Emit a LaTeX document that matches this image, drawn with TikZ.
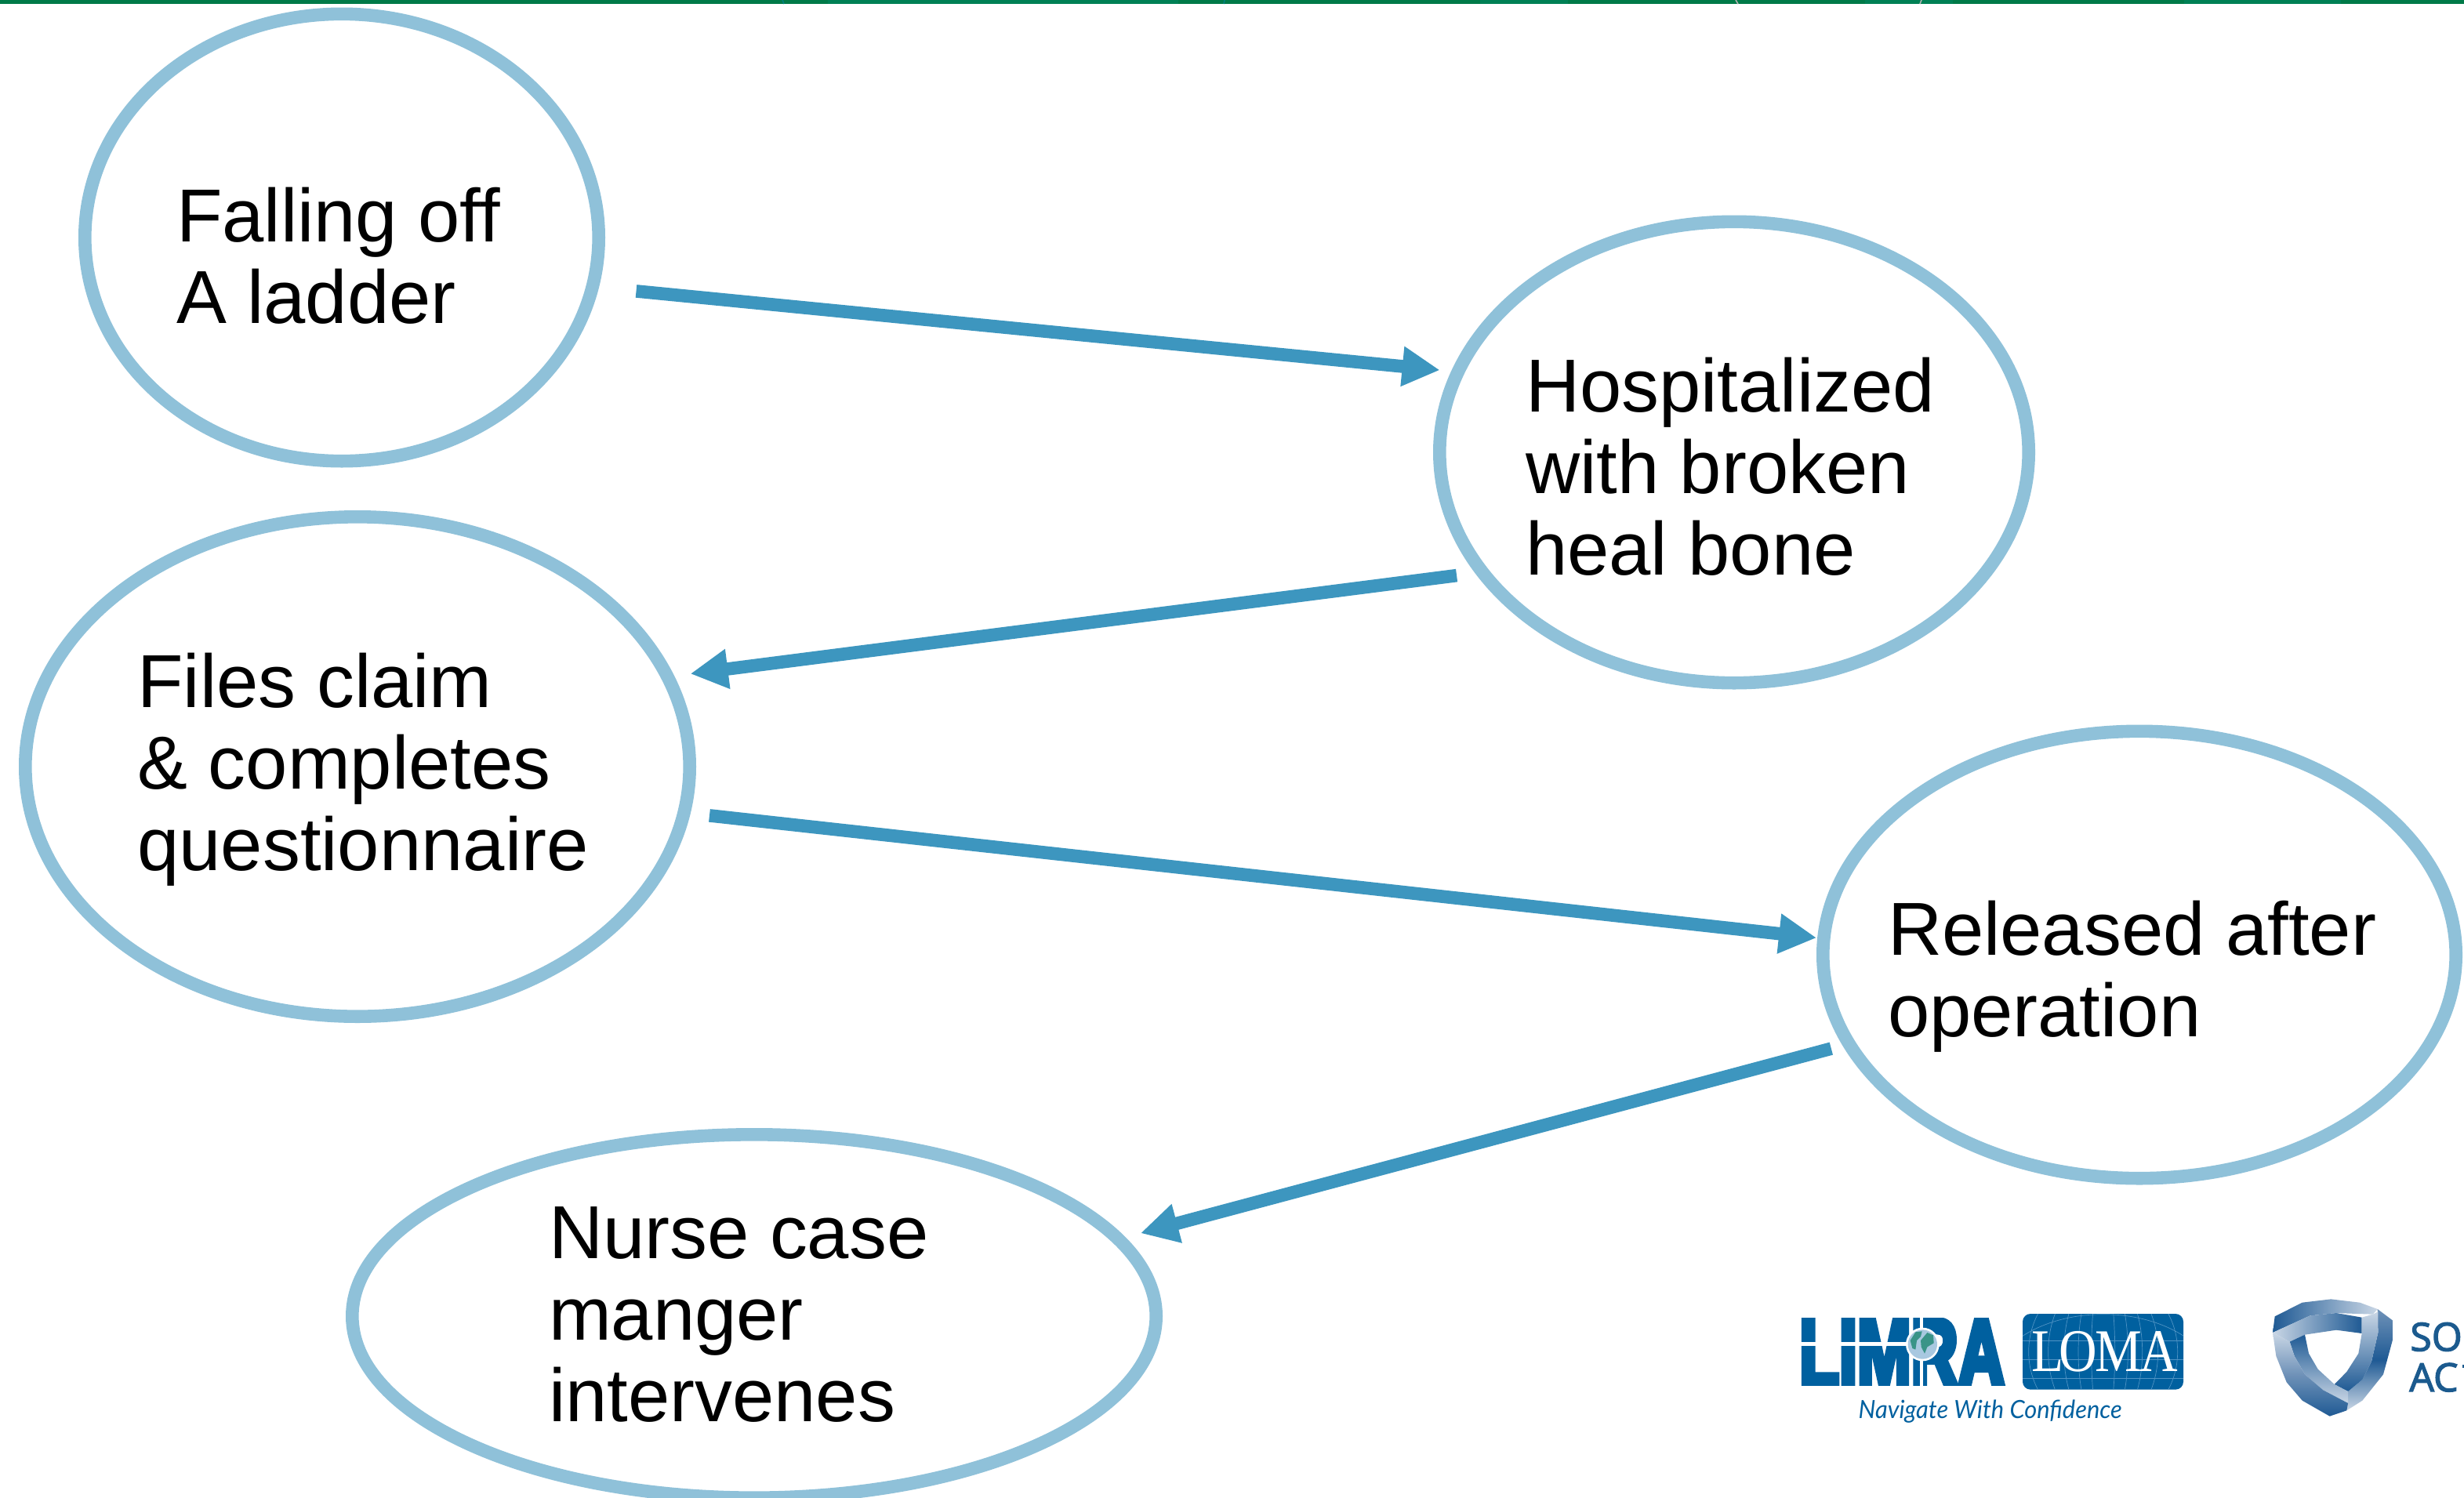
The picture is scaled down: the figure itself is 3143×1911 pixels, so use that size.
\documentclass[tikz,border=0pt]{standalone}
\usepackage{fontspec}
\usepackage{graphicx}
\usetikzlibrary{shapes.geometric,arrows.meta}
\setmainfont{Liberation Sans}
\newfontfamily\heavyfont[FakeBold=7]{Liberation Sans Bold}
\newfontfamily\lomafont{Liberation Serif}
\newfontfamily\navfont{Lato}
\newfontfamily\soafont[FakeBold=2.5]{Open Sans}
\definecolor{ringblue}{HTML}{8FC1D9}
\definecolor{arrowblue}{HTML}{3D96BF}
\definecolor{barGreen}{HTML}{007A48}
\definecolor{barLight}{HTML}{008055}
\definecolor{logoblue}{HTML}{00609F}
\definecolor{gridblue}{HTML}{4F93C4}
\definecolor{shDark}{HTML}{1F5A94}
\definecolor{shMid}{HTML}{6F92B8}
\definecolor{shLight}{HTML}{C9D6E5}
\definecolor{soablue}{HTML}{1B5A8E}
\newcommand{\etxt}[3]{\makebox[0pt][l]{\hspace*{#1}\raisebox{#2}[0pt][0pt]{\begin{tabular}[t]{@{}l@{}}#3\end{tabular}}}}
\tikzset{
  bubble/.style={ellipse,draw=ringblue,line width=8.3pt,inner sep=0pt,font=\fontsize{47.9pt}{52pt}\selectfont},
  flow/.style={draw=arrowblue,line width=8.3pt,-{Triangle[length=24pt,width=24pt,fill=arrowblue]}},
  logotext/.style={inner sep=0pt,outer sep=0pt},
}
\begin{document}
\begin{tikzpicture}[x=0.5pt,y=-0.5pt]
\useasboundingbox (0,0) rectangle (3143,1911);
\clip (0,0) rectangle (3143,1911);
\fill[white] (0,0) rectangle (3143,1911);
% top bar
\fill[barGreen] (0,0) rectangle (3143,5);
\fill[barLight] (1056,0) rectangle (1503,5);
\fill[barLight] (1888,0) rectangle (2000,5);
\fill[barLight] (2379,0) rectangle (2491,5);
\fill[barLight] (2786,0) rectangle (2986,5);
\draw[line width=.8pt,color=teal] (998,0) -- (1000,5);
\draw[line width=.8pt,color=teal] (1562,0) -- (1561,5);
\draw[line width=.8pt,color=gray!60] (2214,0) -- (2217,5);
\draw[line width=.8pt,color=gray!60] (2451,0) -- (2449,5);
% bubbles
\node[bubble,minimum width=327.7pt,minimum height=285.2pt] (fall) at (436,303) {\etxt{-105.5pt}{-2.8pt}{Falling off\\A ladder}};
\node[bubble,minimum width=375.7pt,minimum height=294.2pt] (hosp) at (2212,577) {\etxt{-133pt}{25.6pt}{Hospitalized\\with broken\\heal bone}};
\node[bubble,minimum width=423.7pt,minimum height=318.7pt] (file) at (456,978) {\etxt{-140.3pt}{38pt}{Files claim\\\& completes\\questionnaire}};
\node[bubble,minimum width=403.7pt,minimum height=285.2pt] (rel) at (2729,1218) {\etxt{-160.5pt}{-0.4pt}{Released after\\operation}};
\node[bubble,minimum width=512.7pt,minimum height=231.7pt] (nurse) at (962,1679) {\etxt{-131pt}{36.7pt}{Nurse case\\manger\\intervenes}};
% connectors
\draw[flow,shorten <=23.9pt,shorten >=7.3pt] (fall.-11.4) -- (hosp.164.3);
\draw[flow,shorten <=11.85pt,shorten >=10.4pt] (hosp.205) -- (file.16);
\draw[flow,shorten <=12.2pt,shorten >=0.5pt] (file.-8.2) -- (rel.177.5);
\draw[flow,shorten <=7.56pt,shorten >=10.25pt] (rel.197.1) -- (nurse.12.5);
% LIMRA logo
\begin{scope}[shift={(2280,1660)},x=0.16667pt,y=-0.16667pt]
\node[logotext,anchor=base west,text=logoblue] (limra) at (46,325) {\resizebox{131pt}{\height}{\fontsize{61pt}{61pt}\heavyfont LIMRA}};
\fill[white] (30,-60) rectangle (860,63);
\fill[white] (30,325) rectangle (860,350);
\fill[white] (45,157) rectangle (470,172);
\fill[white] (508,55) rectangle (520,110);
\fill[white] (517,165) circle (64);
\fill[white] (508,225) rectangle (520,335);
\fill[color={rgb,255:red,168;green,200;blue,224}] (517,165) circle (56);
\fill[color={rgb,255:red,58;green,148;blue,136}] (470,150) -- (490,118) -- (515,115) -- (510,135) -- (495,150) -- (490,185) -- (478,180) -- cycle;
\fill[color={rgb,255:red,58;green,148;blue,136}] (510,150) -- (535,120) -- (558,130) -- (560,160) -- (535,175) -- (525,200) -- (512,175) -- cycle;
\node[logotext,anchor=base west,text=logoblue] (tag) at (272,448) {\resizebox{168pt}{\height}{\fontsize{16pt}{16pt}\navfont\itshape Navigate With Confidence}};
\end{scope}
% LOMA logo
\begin{scope}[shift={(2560,1660)},x=0.16667pt,y=-0.16667pt]
\fill[logoblue,rounded corners=5pt] (60,48) rectangle (675,338);
\begin{scope}
\clip[rounded corners=5pt] (60,48) rectangle (675,338);
\foreach \rx in {45,95,150,210,285} \draw[gridblue,line width=.35pt] (368,193) ellipse (\rx*1.0 and 300);
\draw[gridblue,line width=.35pt] (60,150) -- (675,150);
\draw[gridblue,line width=.35pt] (60,222) -- (675,222);
\draw[gridblue,line width=.35pt] (60,295) -- (675,295);
\draw[gridblue,line width=.35pt] (368,340) ellipse (440 and 290);
\end{scope}
\node[logotext,anchor=base west,text=white] (loma) at (95,268) {\resizebox{93pt}{\height}{\fontsize{38.6pt}{38.6pt}\lomafont L\kern-.09em O\kern-.05em M\kern-.04em A}};
\end{scope}
% shield
\begin{scope}[shift={(2880,1640)},x=0.16667pt,y=-0.16667pt]
\shade[left color=shDark,right color=shLight] (57,180) -- (65,118) -- (170,65) -- (280,52) -- (390,65) -- (458,90) -- (440,110) -- (300,105) -- (200,115) -- cycle;
\shade[top color=shMid,bottom color=shLight,middle color=shDark] (458,90) -- (518,135) -- (518,200) -- (480,340) -- (400,440) -- (340,478) -- (345,405) -- (400,360) -- (435,290) -- (460,180) -- cycle;
\shade[left color=shLight,right color=shDark] (57,180) -- (200,115) -- (300,105) -- (398,122) -- (398,183) -- (300,170) -- (180,188) -- (122,215) -- cycle;
\shade[top color=shLight,bottom color=shDark] (398,122) -- (440,110) -- (460,100) -- (460,180) -- (435,290) -- (400,360) -- (345,405) -- (293,378) -- (340,330) -- (385,260) -- (398,183) -- cycle;
\shade[top color=shDark,bottom color=shLight] (122,215) -- (180,188) -- (195,260) -- (230,320) -- (293,378) -- (345,405) -- (345,450) -- (250,400) -- (180,340) -- (140,270) -- cycle;
\shade[top color=shLight,bottom color=shDark,middle color=shMid] (57,180) -- (122,215) -- (140,270) -- (180,340) -- (250,400) -- (345,450) -- (340,478) -- (275,500) -- (170,440) -- (110,370) -- (70,270) -- cycle;
\node[logotext,anchor=base west,text=soablue] (so) at (583,250) {\fontsize{25pt}{25pt}\soafont SO};
\node[logotext,anchor=base west,text=soablue] (ac) at (580,405) {\fontsize{25pt}{25pt}\soafont AC};
\fill[soablue] (782,302) rectangle (790,314);
\end{scope}
\end{tikzpicture}
\end{document}
